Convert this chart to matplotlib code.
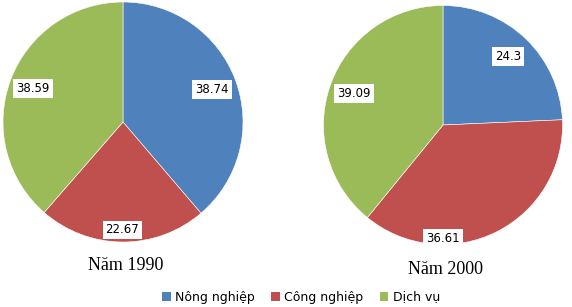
import numpy as np
import matplotlib
matplotlib.use("Agg")
import matplotlib.pyplot as plt
from matplotlib.patches import Patch

categories = ["Nông nghiệp", "Công nghiệp", "Dịch vụ"]
years = ["Năm 1990", "Năm 2000"]
values_1990 = [38.74, 22.67, 38.59]
values_2000 = [24.3, 36.61, 39.09]
colors = ["#4F81BD", "#C0504D", "#9BBB59"]

W, H = 572, 307
fig = plt.figure(figsize=(W / 100, H / 100), dpi=100)

# pie geometry in pixels: (cx, cy, r)
geoms = [(123, 122, 120), (443, 125, 119.5)]
label_dist = [[0.79, 0.90, 0.80], [0.79, 0.95, 0.79]]
label_shift = [[0, 0, 0], [0, -26.5, 0]]
title_pos = [(126, 265), (445, 270)]

for vals, (cx, cy, r), ld, ls, title, tp in zip(
        [values_1990, values_2000], geoms, label_dist, label_shift, years, title_pos):
    ax = fig.add_axes([(cx - r) / W, (H - cy - r) / H, 2 * r / W, 2 * r / H])
    wedges, _ = ax.pie(vals, colors=colors, startangle=90, counterclock=False,
                       radius=1, wedgeprops=dict(edgecolor="white", linewidth=0.4))
    ax.set_xlim(-1, 1)
    ax.set_ylim(-1, 1)
    ax.set_aspect("equal")
    ax.axis("off")
    for w, v, d, s in zip(wedges, vals, ld, ls):
        ang = np.deg2rad((w.theta1 + w.theta2) / 2 + s)
        ax.text(d * np.cos(ang), d * np.sin(ang), f"{v:g}", ha="center", va="center",
                fontsize=8.5, family="DejaVu Sans", color="black",
                bbox=dict(boxstyle="square,pad=0.25", fc="white", ec="none"))
    fig.text(tp[0] / W, 1 - tp[1] / H, title, ha="center", va="center",
             fontsize=13, family="Liberation Serif", color="black")

handles = [Patch(facecolor=c, edgecolor="none") for c in colors]
fig.legend(handles, categories, loc="center", bbox_to_anchor=(301 / W, 1 - 297 / H),
           ncol=3, frameon=False, handlelength=0.7, handleheight=0.7,
           handletextpad=0.35, columnspacing=1.3, prop=dict(family="DejaVu Sans", size=9))

fig.savefig("out.png", dpi=100, facecolor="white")
